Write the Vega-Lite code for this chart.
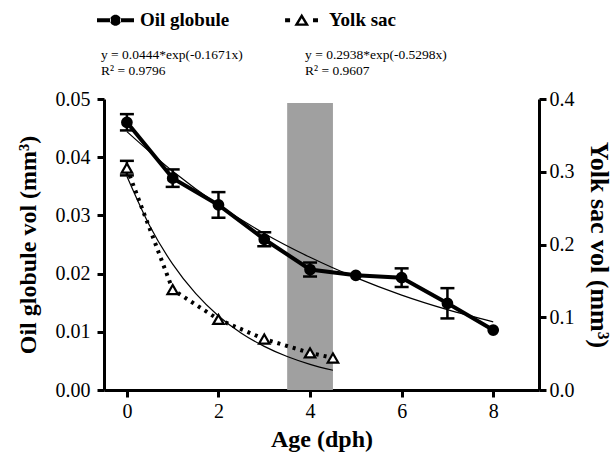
{
  "$schema": "https://vega.github.io/schema/vega-lite/v6.json",
  "autosize": {"type": "none"},
  "padding": {"left": 104, "top": 99, "right": 75, "bottom": 67},
  "width": 435,
  "height": 291,
  "background": "white",
  "config": {
    "view": {"stroke": null},
    "font": "Liberation Serif",
    "axis": {
      "domainColor": "black", "domainWidth": 3, "tickColor": "black", "tickWidth": 3, "tickSize": 7,
      "labelColor": "black", "labelFont": "Liberation Serif", "labelFontSize": 20,
      "titleFont": "Liberation Serif", "titleFontSize": 24, "titleFontWeight": "bold", "titleColor": "black",
      "grid": false, "labelPadding": 3
    }
  },
  "datasets": {
    "obs": [
      {"series": "Oil globule", "x": 0, "mean": 0.0460, "err": 0.0014},
      {"series": "Oil globule", "x": 1, "mean": 0.0364, "err": 0.0015},
      {"series": "Oil globule", "x": 2, "mean": 0.0318, "err": 0.0022},
      {"series": "Oil globule", "x": 3, "mean": 0.0259, "err": 0.0012},
      {"series": "Oil globule", "x": 4, "mean": 0.0207, "err": 0.0012},
      {"series": "Oil globule", "x": 5, "mean": 0.0197, "err": 0},
      {"series": "Oil globule", "x": 6, "mean": 0.0193, "err": 0.0016},
      {"series": "Oil globule", "x": 7, "mean": 0.0149, "err": 0.0026},
      {"series": "Oil globule", "x": 8, "mean": 0.0103, "err": 0},
      {"series": "Yolk sac", "x": 0, "mean": 0.305, "err": 0.01},
      {"series": "Yolk sac", "x": 1, "mean": 0.138, "err": 0},
      {"series": "Yolk sac", "x": 2, "mean": 0.097, "err": 0},
      {"series": "Yolk sac", "x": 3, "mean": 0.070, "err": 0},
      {"series": "Yolk sac", "x": 4, "mean": 0.051, "err": 0},
      {"series": "Yolk sac", "x": 4.5, "mean": 0.044, "err": 0}
    ],
    "fit": [
      {"series": "Oil globule", "x": 0, "v": 0.0444},
      {"series": "Oil globule", "x": 1, "v": 0.0376},
      {"series": "Oil globule", "x": 2, "v": 0.0318},
      {"series": "Oil globule", "x": 3, "v": 0.0269},
      {"series": "Oil globule", "x": 4, "v": 0.0228},
      {"series": "Oil globule", "x": 5, "v": 0.0193},
      {"series": "Oil globule", "x": 6, "v": 0.0163},
      {"series": "Oil globule", "x": 7, "v": 0.0138},
      {"series": "Oil globule", "x": 8, "v": 0.0117},
      {"series": "Yolk sac", "x": 0, "v": 0.2938},
      {"series": "Yolk sac", "x": 0.5, "v": 0.2254},
      {"series": "Yolk sac", "x": 1, "v": 0.1730},
      {"series": "Yolk sac", "x": 1.5, "v": 0.1327},
      {"series": "Yolk sac", "x": 2, "v": 0.1018},
      {"series": "Yolk sac", "x": 2.5, "v": 0.0781},
      {"series": "Yolk sac", "x": 3, "v": 0.0600},
      {"series": "Yolk sac", "x": 3.5, "v": 0.0460},
      {"series": "Yolk sac", "x": 4, "v": 0.0353},
      {"series": "Yolk sac", "x": 4.5, "v": 0.0271}
    ],
    "shade": [{"x1": 3.5, "x2": 4.5, "y1": 0, "y2": 0.0493}],
    "notes": [
      {"t": "y = 0.0444*exp(-0.1671x)", "x": -0.566, "y": 0.05756},
      {"t": "R² = 0.9796", "x": -0.566, "y": 0.05481},
      {"t": "y = 0.2938*exp(-0.5298x)", "x": 3.89, "y": 0.05756},
      {"t": "R² = 0.9607", "x": 3.89, "y": 0.05481}
    ]
  },
  "layer": [
    {
      "layer": [
        {
          "data": {"name": "shade"},
          "mark": {"type": "rect", "fill": "#a0a0a0"},
          "encoding": {
            "x": {"field": "x1", "type": "quantitative", "scale": {"domain": [-0.5, 9], "nice": false, "zero": false},
                  "axis": {"title": "Age (dph)", "values": [0, 2, 4, 6, 8], "labelPadding": 4, "titlePadding": 6}},
            "x2": {"field": "x2"},
            "y": {"field": "y1", "type": "quantitative", "scale": {"domain": [0, 0.05], "nice": false},
                  "axis": {"title": "Oil globule vol (mm³)", "values": [0, 0.01, 0.02, 0.03, 0.04, 0.05], "format": ".2f", "labelPadding": 7, "titlePadding": 15}},
            "y2": {"field": "y2"}
          }
        },
        {
          "data": {"name": "fit"},
          "transform": [{"filter": "datum.series === 'Oil globule'"}],
          "mark": {"type": "line", "color": "black", "strokeWidth": 1.2, "interpolate": "monotone"},
          "encoding": {
            "x": {"field": "x", "type": "quantitative"},
            "y": {"field": "v", "type": "quantitative"}
          }
        },
        {
          "data": {"name": "obs"},
          "transform": [{"filter": "datum.series === 'Oil globule'"}],
          "mark": {"type": "line", "color": "black", "strokeWidth": 4},
          "encoding": {
            "x": {"field": "x", "type": "quantitative"},
            "y": {"field": "mean", "type": "quantitative"}
          }
        },
        {
          "data": {"name": "obs"},
          "transform": [{"filter": "datum.series === 'Oil globule' && datum.err > 0"}],
          "mark": {"type": "errorbar", "color": "black", "opacity": 1, "thickness": 2.5,
                   "rule": {"color": "black", "opacity": 1, "strokeWidth": 2.5},
                   "ticks": {"size": 14, "thickness": 2.5, "color": "black", "opacity": 1}},
          "encoding": {
            "x": {"field": "x", "type": "quantitative", "title": "Age (dph)"},
            "y": {"field": "mean", "type": "quantitative", "title": "Oil globule vol (mm³)"},
            "yError": {"field": "err"}
          }
        },
        {
          "data": {"name": "obs"},
          "transform": [{"filter": "datum.series === 'Oil globule'"}],
          "mark": {"type": "point", "shape": "circle", "filled": true, "fill": "black", "stroke": "black", "size": 95, "opacity": 1},
          "encoding": {
            "x": {"field": "x", "type": "quantitative"},
            "y": {"field": "mean", "type": "quantitative"}
          }
        },
        {
          "data": {"name": "obs"},
          "transform": [{"filter": "false"}],
          "mark": {"type": "point", "filled": true, "fill": "black", "size": 1369, "opacity": 1},
          "encoding": {
            "x": {"field": "x", "type": "quantitative"},
            "y": {"field": "mean", "type": "quantitative"},
            "shape": {
              "field": "series", "type": "nominal",
              "scale": {"domain": ["Oil globule", "Yolk sac"],
                        "range": ["M-1,-0.11H-0.25V0.11H-1Z M0.25,-0.11H1V0.11H0.25Z M-0.3,0A0.3,0.3,0,1,0,0.3,0A0.3,0.3,0,1,0,-0.3,0Z",
                                  "M-1.05,-0.11H-0.78V0.11H-1.05Z M0.46,-0.11H0.73V0.11H0.46Z M-0.15,-0.36L0.25,0.3L-0.55,0.3Z M-0.15,-0.109L-0.319,0.17L0.019,0.17Z"]},
              "legend": {
                "orient": "none", "legendX": -7, "legendY": -97.5, "direction": "horizontal", "title": null,
                "symbolSize": 1369, "symbolStrokeWidth": 0, "symbolFillColor": "black",
                "labelFont": "Liberation Serif", "labelFontSize": 19, "labelFontWeight": "bold", "labelColor": "black",
                "labelOffset": 6, "columnPadding": 55, "padding": 0
              }
            }
          }
        },
        {
          "data": {"name": "notes"},
          "mark": {"type": "text", "align": "left", "baseline": "middle", "font": "Liberation Serif", "fontSize": 13.5, "color": "black"},
          "encoding": {
            "x": {"field": "x", "type": "quantitative"},
            "y": {"field": "y", "type": "quantitative"},
            "text": {"field": "t"}
          }
        }
      ]
    },
    {
      "layer": [
        {
          "data": {"name": "fit"},
          "transform": [{"filter": "datum.series === 'Yolk sac'"}],
          "mark": {"type": "line", "color": "black", "strokeWidth": 1.2, "interpolate": "monotone"},
          "encoding": {
            "x": {"field": "x", "type": "quantitative"},
            "y": {"field": "v", "type": "quantitative", "scale": {"domain": [0, 0.4], "nice": false},
                  "axis": {"orient": "right", "title": "Yolk sac vol (mm³)", "values": [0, 0.1, 0.2, 0.3, 0.4], "format": ".1f", "titlePadding": 11, "titleFontSize": 26}}
          }
        },
        {
          "data": {"name": "obs"},
          "transform": [{"filter": "datum.series === 'Yolk sac'"}],
          "mark": {"type": "line", "color": "black", "strokeWidth": 4, "strokeDash": [3, 5]},
          "encoding": {
            "x": {"field": "x", "type": "quantitative"},
            "y": {"field": "mean", "type": "quantitative"}
          }
        },
        {
          "data": {"name": "obs"},
          "transform": [{"filter": "datum.series === 'Yolk sac' && datum.err > 0"}],
          "mark": {"type": "errorbar", "color": "black", "opacity": 1, "thickness": 2.5,
                   "rule": {"color": "black", "opacity": 1, "strokeWidth": 2.5},
                   "ticks": {"size": 14, "thickness": 2.5, "color": "black", "opacity": 1}},
          "encoding": {
            "x": {"field": "x", "type": "quantitative", "title": "Age (dph)"},
            "y": {"field": "mean", "type": "quantitative", "title": "Yolk sac vol (mm³)"},
            "yError": {"field": "err"}
          }
        },
        {
          "data": {"name": "obs"},
          "transform": [{"filter": "datum.series === 'Yolk sac'"}],
          "mark": {"type": "point", "shape": "triangle-up", "filled": true, "fill": "white", "stroke": "black", "strokeWidth": 2.2, "size": 110, "opacity": 1},
          "encoding": {
            "x": {"field": "x", "type": "quantitative"},
            "y": {"field": "mean", "type": "quantitative"}
          }
        }
      ]
    }
  ],
  "resolve": {"scale": {"y": "independent"}}
}
